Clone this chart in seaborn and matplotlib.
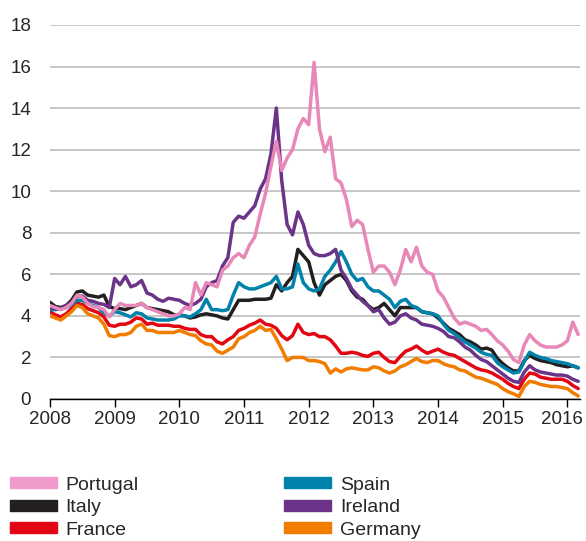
import numpy as np
import pandas as pd
import matplotlib
matplotlib.use("Agg")
import matplotlib.pyplot as plt
import matplotlib.patches as mpatches
import matplotlib.transforms as mtransforms
import seaborn as sns

# monthly 10y yields, Jan 2008 .. Mar 2016
portugal = [4.5, 4.4, 4.3, 4.4, 4.6, 5.0, 4.9, 4.6, 4.45, 4.4, 4.3, 3.95,
            4.3, 4.6, 4.5, 4.5, 4.5, 4.6, 4.4, 4.3, 4.2, 4.1, 4.0, 4.0,
            4.1, 4.4, 4.3, 5.6, 5.0, 5.6, 5.5, 5.4, 6.2, 6.4, 6.8, 7.0,
            6.8, 7.4, 7.8, 8.9, 9.9, 11.2, 12.4, 11.0, 11.6, 12.0, 13.0, 13.5,
            13.2, 16.2, 13.0, 11.9, 12.6, 10.6, 10.4, 9.6, 8.3, 8.6, 8.4, 7.2,
            6.1, 6.4, 6.4, 6.1, 5.5, 6.2, 7.2, 6.6, 7.3, 6.4, 6.1, 6.0,
            5.2, 4.9, 4.4, 3.9, 3.6, 3.7, 3.6, 3.5, 3.3, 3.35, 3.1, 2.8,
            2.6, 2.3, 1.9, 1.75, 2.6, 3.1, 2.8, 2.6, 2.5, 2.5, 2.5, 2.6,
            2.8, 3.7, 3.1]
spain = [4.3, 4.3, 4.35, 4.4, 4.55, 4.75, 4.75, 4.6, 4.5, 4.4, 4.15, 4.0,
         4.2, 4.15, 4.05, 3.95, 4.15, 4.1, 3.9, 3.85, 3.8, 3.8, 3.8, 3.85,
         4.0, 4.0, 3.95, 4.1, 4.3, 4.8, 4.3, 4.3, 4.25, 4.3, 5.0, 5.6,
         5.4, 5.3, 5.3, 5.4, 5.5, 5.6, 5.9, 5.3, 5.3, 5.4, 6.5, 5.6,
         5.3, 5.2, 5.3, 5.9, 6.2, 6.6, 7.1, 6.6, 6.0, 5.7, 5.8, 5.4,
         5.2, 5.2, 5.0, 4.8, 4.4, 4.7, 4.8, 4.5, 4.4, 4.2, 4.15, 4.1,
         4.0, 3.6, 3.3, 3.15, 2.95, 2.75, 2.6, 2.45, 2.25, 2.15, 2.1, 1.75,
         1.55, 1.4, 1.25, 1.3, 1.8, 2.25, 2.1, 2.0, 1.95, 1.85, 1.8, 1.75,
         1.7, 1.6, 1.5]
italy = [4.65, 4.45, 4.4, 4.5, 4.75, 5.15, 5.2, 5.0, 4.95, 4.9, 5.0, 4.45,
         4.35, 4.35, 4.3, 4.4, 4.5, 4.6, 4.4, 4.35, 4.3, 4.25, 4.2, 4.05,
         4.05, 4.0, 3.9, 3.95, 4.05, 4.1, 4.05, 4.0, 3.9, 3.85, 4.3, 4.75,
         4.75, 4.75, 4.8, 4.8, 4.8, 4.85, 5.5, 5.2, 5.6, 5.9, 7.2, 6.9,
         6.6, 5.6, 5.0, 5.5, 5.7, 5.9, 6.0, 5.7, 5.2, 4.9, 4.8, 4.5,
         4.3, 4.4, 4.6, 4.3, 4.0, 4.4, 4.4, 4.4, 4.4, 4.2, 4.15, 4.1,
         3.9, 3.65, 3.4, 3.25, 3.1, 2.85, 2.75, 2.6, 2.4, 2.45, 2.35, 1.95,
         1.7, 1.5, 1.35, 1.35, 1.85, 2.1, 1.95, 1.85, 1.8, 1.75, 1.65, 1.6,
         1.55, 1.6, 1.5]
ireland = [4.4, 4.35, 4.35, 4.5, 4.65, 4.95, 4.95, 4.75, 4.7, 4.6, 4.55, 4.4,
           5.8, 5.5, 5.9, 5.4, 5.5, 5.7, 5.1, 5.0, 4.8, 4.7, 4.85, 4.8,
           4.75, 4.6, 4.5, 4.6, 4.8, 5.4, 5.6, 5.7, 6.4, 6.8, 8.5, 8.8,
           8.7, 9.0, 9.3, 10.1, 10.6, 11.8, 14.0, 10.5, 8.4, 7.9, 9.0, 8.4,
           7.4, 7.0, 6.9, 6.9, 7.0, 7.2, 6.2, 5.8, 5.3, 5.0, 4.7, 4.5,
           4.2, 4.3, 3.9, 3.6, 3.7, 4.0, 4.1, 3.9, 3.8, 3.6, 3.55, 3.5,
           3.4, 3.25, 3.0, 2.95, 2.75, 2.5, 2.35, 2.1, 1.9, 1.8, 1.6, 1.4,
           1.2, 1.0, 0.85, 0.8, 1.3, 1.6, 1.4, 1.3, 1.25, 1.2, 1.15, 1.15,
           1.1, 0.95, 0.85]
france = [4.2, 4.05, 3.95, 4.1, 4.35, 4.6, 4.55, 4.35, 4.25, 4.15, 3.95, 3.55,
          3.5, 3.6, 3.6, 3.7, 3.9, 3.85, 3.6, 3.65, 3.55, 3.55, 3.55, 3.5,
          3.5, 3.4, 3.35, 3.35, 3.1, 3.0, 3.0, 2.75, 2.65, 2.85, 3.0, 3.3,
          3.4, 3.55, 3.65, 3.8, 3.6, 3.55, 3.4, 3.05, 2.85, 3.05, 3.6, 3.2,
          3.1, 3.15, 3.0, 3.0, 2.85, 2.55, 2.2, 2.2, 2.25, 2.2, 2.1, 2.05,
          2.2, 2.25, 2.0, 1.8, 1.75, 2.05, 2.3, 2.4, 2.55, 2.35, 2.2, 2.3,
          2.4, 2.25, 2.15, 2.1, 1.95, 1.8, 1.65, 1.5, 1.4, 1.35, 1.25, 1.1,
          0.95, 0.75, 0.6, 0.5, 0.95, 1.25, 1.2, 1.05, 1.0, 0.95, 0.95, 0.95,
          0.85, 0.65, 0.5]
germany = [4.0, 3.9, 3.8, 4.0, 4.2, 4.5, 4.4, 4.1, 4.0, 3.9, 3.6, 3.05,
           3.0, 3.1, 3.1, 3.2, 3.5, 3.6, 3.3, 3.3, 3.2, 3.2, 3.2, 3.2,
           3.3, 3.2, 3.1, 3.05, 2.8, 2.65, 2.6, 2.3, 2.2, 2.35, 2.5, 2.9,
           3.0, 3.2, 3.3, 3.5, 3.3, 3.35, 2.9, 2.4, 1.85, 2.0, 2.0, 2.0,
           1.85, 1.85, 1.8, 1.7, 1.25, 1.45, 1.3, 1.45, 1.5, 1.45, 1.4, 1.4,
           1.55, 1.5, 1.35, 1.25, 1.35, 1.55, 1.65, 1.8, 1.95, 1.8, 1.75, 1.85,
           1.85, 1.7, 1.6, 1.55, 1.4, 1.35, 1.2, 1.05, 1.0, 0.9, 0.8, 0.7,
           0.5, 0.35, 0.25, 0.12, 0.6, 0.85, 0.8, 0.7, 0.65, 0.6, 0.6, 0.55,
           0.5, 0.3, 0.15]

countries = ["Portugal", "Spain", "Italy", "Ireland", "France", "Germany"]
colors = {"Portugal": "#E888B8", "Spain": "#0083AB", "Italy": "#231F20",
          "Ireland": "#6C3489", "France": "#E30613", "Germany": "#F07D00"}
legend_colors = {"Portugal": "#F19BCB"}
year_ticks = list(range(2008, 2017))

series = dict(zip(countries, [portugal, spain, italy, ireland, france, germany]))
t = 2008 + np.arange(len(portugal)) / 12.0
df = pd.concat([pd.DataFrame({"year": t, "yield": v, "country": c})
                for c, v in series.items()], ignore_index=True)

sns.set_style("white")
plt.rcParams["font.family"] = ["Liberation Sans", "DejaVu Sans"]

fig = plt.figure(figsize=(5.86, 5.41), dpi=100)
ax = fig.add_axes([0.0853, 0.2625, 0.905, 0.6913])

# draw order: lower curves first, Portugal on top
for c in ["France", "Germany", "Italy", "Spain", "Ireland", "Portugal"]:
    sns.lineplot(data=df[df["country"] == c], x="year", y="yield",
                 color=colors[c], lw=2.5, ax=ax, legend=False)

ax.set_xlim(2008, 2016.2)
ax.set_ylim(0, 18)
ax.set_yticks(range(0, 19, 2))
ax.set_xticks(year_ticks)
ax.set_xticklabels([str(y) for y in year_ticks])
ax.yaxis.grid(True, color="#BEBEBE", lw=1.2)
ax.set_axisbelow(True)
ax.set_xlabel("")
ax.set_ylabel("")
for s in ["top", "right", "left"]:
    ax.spines[s].set_visible(False)
ax.spines["bottom"].set_color("black")
ax.spines["bottom"].set_linewidth(1.0)
ax.tick_params(axis="x", bottom=True, length=6, width=1, color="black",
               labelsize=13.5, pad=3)
ax.tick_params(axis="y", left=False, labelsize=13.5, pad=10)

# nudge the last year label so it stays inside the canvas
last = ax.get_xticklabels()[-1]
last.set_transform(last.get_transform() +
                   mtransforms.ScaledTranslation(-5 / 100, 0, fig.dpi_scale_trans))

handles = [mpatches.Patch(color=legend_colors.get(c, colors[c]), label=c)
           for c in ["Portugal", "Italy", "France", "Spain", "Ireland", "Germany"]]
fig.legend(handles=handles, loc="upper left", bbox_to_anchor=(0.017, 0.119),
           ncol=2, frameon=False, fontsize=14, handlelength=2.4,
           handleheight=0.5, handletextpad=0.45, labelspacing=0.28,
           columnspacing=7.5, borderpad=0, borderaxespad=0)

fig.savefig("out.png", dpi=100)
